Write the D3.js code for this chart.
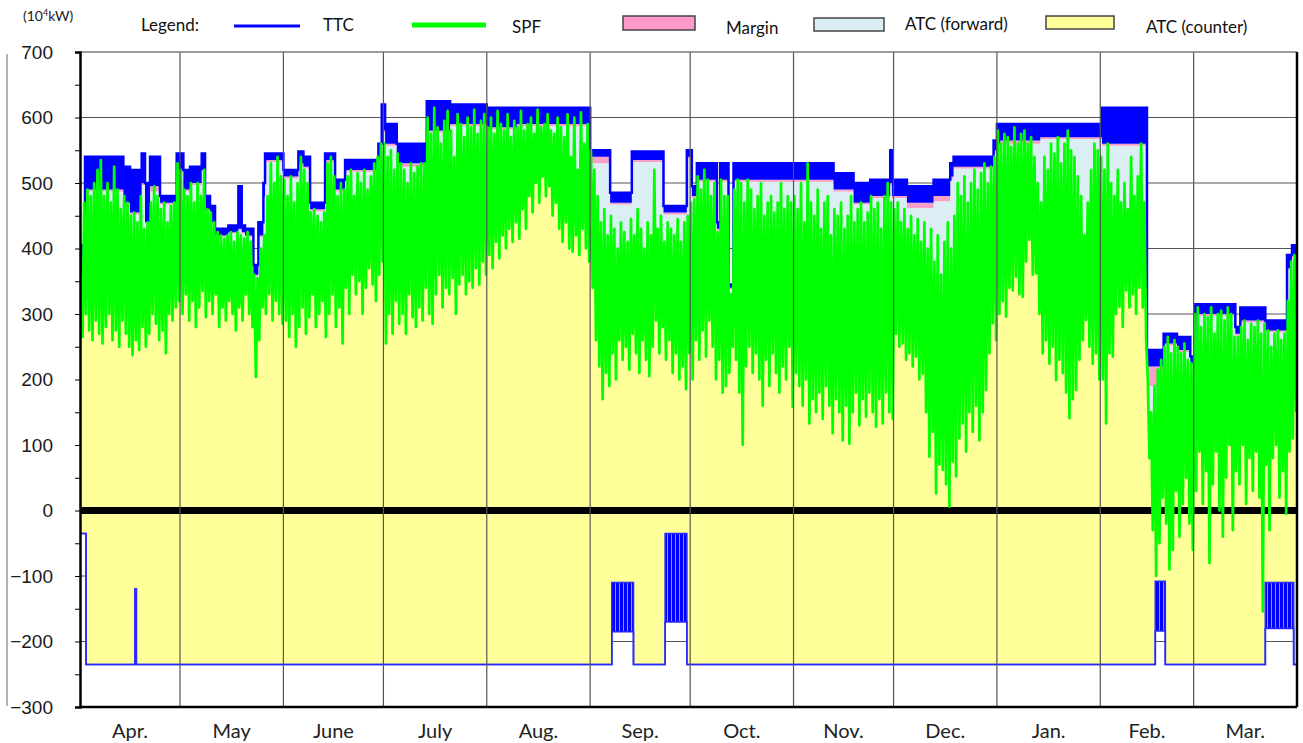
<!DOCTYPE html>
<html>
<head>
<meta charset="utf-8">
<script src="https://cdn.jsdelivr.net/npm/d3@7"></script>
<style>
  body { margin: 0; background: #fff; }
  svg { display: block; font-family: Lato, "Open Sans", sans-serif; }
</style>
</head>
<body>
<div id="container"></div>
<script>
// fiscal year, day 0 = 1 April
const monthNames = ['Apr.', 'May', 'June', 'July', 'Aug.', 'Sep.', 'Oct.', 'Nov.', 'Dec.', 'Jan.', 'Feb.', 'Mar.'];
const yTicks = [700, 600, 500, 400, 300, 200, 100, 0, -100, -200, -300];

// TTC (forward) steps: start day, band top, band bottom, margin below it
const ttcDay = [0, 1.5, 13, 15, 18.5, 19.5, 21, 24, 29, 31, 33, 36.5, 37.5, 39, 40.5, 44.5, 47.5, 48.5, 49.5, 52,
  53.5, 55, 55.5, 61, 65.5, 67, 69, 73.5, 76.5, 79.5, 89.5, 90.5, 91.5, 95, 104, 111, 122, 131, 152, 153,
  159, 165.5, 175, 182, 183.5, 185, 191, 192, 194.5, 196, 226, 232, 237, 243, 243.5, 248, 256, 261, 262, 274,
  275, 276, 288, 306.5, 320, 325, 329, 333, 334.5, 346.5, 348, 355.5, 362, 363.5];
const ttcHigh = [405, 540, 525, 520, 545, 500, 540, 480, 545, 520, 525, 545, 480, 465, 430, 435, 495, 435, 430, 375,
  440, 500, 545, 520, 548, 540, 470, 545, 505, 535, 560, 620, 590, 560, 625, 620, 615, 615, 615, 550,
  485, 548, 465, 550, 495, 530, 440, 530, 345, 530, 515, 500, 505, 550, 505, 495, 505, 530, 540, 565,
  590, 590, 590, 615, 245, 270, 265, 235, 315, 280, 310, 290, 390, 405];
const ttcLow = [355, 490, 470, 455, 500, 440, 495, 470, 520, 490, 500, 520, 460, 440, 420, 425, 430, 425, 420, 360,
  420, 480, 535, 510, 530, 525, 460, 535, 490, 520, 540, 580, 560, 530, 580, 590, 585, 590, 580, 540,
  470, 535, 455, 540, 480, 505, 430, 505, 340, 505, 490, 470, 480, 500, 480, 470, 480, 510, 525, 550,
  560, 565, 570, 560, 220, 255, 245, 225, 300, 270, 290, 275, 370, 390];
const ttcMargin = [0, 3, 10, 3, 3, 3, 8, 3, 3, 3, 3, 3, 3, 3, 2, 2, 2, 2, 2, 2,
  3, 3, 3, 3, 3, 3, 3, 3, 3, 3, 3, 3, 3, 5, 3, 3, 3, 3, 3, 10,
  3, 3, 3, 3, 3, 3, 3, 3, 2, 3, 3, 3, 3, 3, 3, 8, 8, 3, 3, 5,
  3, 5, 3, 3, 30, 3, 3, 3, 3, 3, 3, 3, 3, 3];

// TTC (counter direction) steps
const ctrDay = [0, 1.8, 16.5, 16.9, 159.5, 166, 175.5, 182, 322.5, 325.5, 355.5, 364];
const ctrHigh = [-35, -235, -120, -235, -110, -235, -35, -235, -108, -235, -110, -235];
const ctrLow = [-35, -235, -120, -235, -185, -235, -170, -235, -184, -235, -180, -235];

// SPF daily peak and trough
const spfHigh = [
  360, 470, 490, 480, 500, 520, 535, 480, 500, 470, 525, 490, 460, 480, 470, 450, 455, 440, 480, 430, 440, 470, 495, 480, 460, 470, 440, 465, 470, 530,
  520, 490, 480, 500, 470, 500, 480, 520, 460, 455, 440, 425, 420, 415, 420, 425, 410, 425, 420, 415, 425, 410, 360, 355, 400, 420, 480, 530, 500, 540, 510,
  505, 480, 510, 470, 500, 540, 520, 500, 455, 460, 450, 440, 455, 530, 540, 510, 480, 500, 490, 510, 520, 480, 515, 500, 520, 490, 510, 530, 540, 560,
  560, 540, 550, 520, 545, 530, 520, 500, 530, 515, 525, 530, 530, 600, 575, 615, 585, 560, 595, 610, 580, 540, 605, 590, 570, 600, 585, 612, 575, 595, 605,
  585, 600, 575, 610, 590, 580, 605, 570, 595, 585, 610, 580, 590, 600, 575, 612, 585, 590, 605, 580, 575, 600, 585, 570, 605, 540, 600, 520, 608, 560, 590,
  550, 520, 480, 440, 460, 420, 450, 430, 400, 440, 425, 410, 445, 420, 460, 430, 400, 440, 420, 520, 430, 450, 410, 440, 430, 420, 445, 410, 440, 450,
  470, 475, 510, 490, 520, 505, 480, 500, 425, 505, 480, 480, 330, 490, 505, 500, 470, 505, 490, 460, 480, 500, 450, 470, 480, 455, 470, 500, 460, 480, 470,
  480, 460, 500, 440, 530, 470, 450, 490, 430, 470, 480, 420, 460, 450, 470, 430, 450, 480, 440, 460, 470, 440, 455, 480, 460, 470, 430, 480, 500, 470,
  460, 470, 440, 460, 430, 450, 420, 445, 410, 440, 400, 430, 380, 420, 360, 410, 440, 400, 450, 500, 480, 510, 470, 500, 520, 490, 515, 530, 500, 525, 540,
  580, 560, 575, 570, 555, 585, 560, 575, 580, 560, 570, 540, 500, 470, 540, 520, 560, 545, 570, 530, 560, 580, 550, 540, 510, 480, 420, 470, 520, 560, 550,
  540, 520, 560, 500, 480, 520, 470, 500, 460, 540, 480, 510, 560, 470, 200, 150, 190, 215, 230, 250, 265, 240, 260, 250, 240, 255, 230, 225,
  300, 310, 280, 300, 295, 310, 270, 300, 305, 290, 310, 300, 265, 265, 280, 290, 260, 285, 280, 290, 270, 285, 275, 250, 270, 275, 260, 270, 320, 380, 390
];
const spfLow = [
  265, 300, 275, 260, 290, 270, 255, 280, 300, 260, 275, 250, 290, 270, 250, 237, 260, 245, 280, 250, 270, 300, 285, 260, 275, 240, 300, 290, 310, 320,
  300, 330, 290, 320, 280, 310, 335, 295, 320, 300, 330, 280, 310, 290, 320, 300, 275, 310, 290, 330, 300, 280, 204, 260, 310, 300, 330, 290, 320, 300, 285,
  290, 265, 300, 250, 280, 310, 270, 295, 330, 280, 300, 320, 265, 300, 330, 280, 310, 255, 340, 300, 360, 330, 350, 300, 340, 370, 345, 320, 360, 380,
  255, 300, 270, 320, 285, 300, 270, 330, 295, 280, 310, 290, 340, 300, 285, 330, 360, 310, 340, 330, 355, 300, 345, 360, 330, 350, 340, 370, 345, 380, 360,
  390, 370, 410, 385, 420, 400, 430, 410, 440, 415, 460, 430, 480, 455, 500, 470, 510, 480, 495, 450, 470, 430, 410, 440, 400, 395, 420, 390, 430, 400, 380,
  340, 260, 220, 170, 210, 190, 240, 200, 260, 230, 250, 215, 270, 240, 210, 260, 230, 205, 250, 290, 240, 280, 230, 260, 210, 240, 200, 220, 185, 240,
  200, 260, 230, 275, 235, 290, 250, 200, 230, 180, 190, 210, 250, 230, 180, 100, 220, 250, 210, 240, 200, 160, 230, 190, 240, 210, 180, 220, 200, 250, 158,
  210, 190, 160, 200, 133, 170, 150, 180, 140, 190, 160, 118, 170, 150, 107, 160, 102, 150, 180, 130, 170, 143, 180, 150, 128, 170, 133, 180, 150, 140,
  270, 250, 255, 230, 240, 220, 235, 200, 209, 150, 82, 120, 26, 70, 62, 40, 6, 75, 52, 110, 133, 90, 150, 120, 160, 107, 150, 184, 240, 286, 260,
  300, 320, 296, 340, 336, 357, 330, 326, 380, 413, 360, 362, 300, 240, 260, 224, 250, 199, 230, 210, 180, 141, 170, 184, 230, 260, 291, 250, 224, 240, 200,
  200, 133, 240, 235, 300, 311, 280, 336, 310, 330, 300, 340, 310, 260, 80, -30, -100, -50, 20, -20, -90, -60, 30, -40, 10, 50, -20, -60,
  30, 90, 10, 60, -80, 40, 90, 0, -40, 50, 100, -30, 60, 40, 100, 10, 80, 30, 90, 20, -154, 70, -30, 80, 100, 20, 60, -5, 90, 110, 150
];

const colours = { ttc: '#0000ff', spf: '#00ff00', margin: '#f9a0c8', fwd: '#dbeef4', ctr: '#ffff99' };

const W = 1303, H = 743;
const plotL = 80, plotR = 1297, plotT = 52, plotB = 707;
const start = Date.UTC(2018, 3, 1), end = Date.UTC(2019, 3, 1);
const dayDate = (d) => new Date(start + d * 864e5);

const x = d3.scaleUtc().domain([new Date(start), new Date(end)]).range([plotL, plotR]);
const y = d3.scaleLinear().domain([-300, 700]).range([plotB, plotT]);

const svg = d3.select('#container').append('svg').attr('width', W).attr('height', H);
const defs = svg.append('defs');
defs.append('clipPath').attr('id', 'plot')
  .append('rect').attr('x', plotL).attr('y', plotT).attr('width', plotR - plotL).attr('height', plotB - plotT);
const hatch = defs.append('pattern').attr('id', 'hatch').attr('patternUnits', 'userSpaceOnUse')
  .attr('width', 4).attr('height', 8);
hatch.append('rect').attr('width', 4).attr('height', 8).attr('fill', colours.ttc);
hatch.append('rect').attr('x', 3.1).attr('width', 0.7).attr('height', 8).attr('fill', '#c8c8ff');

// step data
const ttcPts = ttcDay.map((d, i) => ({ d, hi: ttcHigh[i], lo: ttcLow[i], m: ttcMargin[i] }));
ttcPts.push(Object.assign({}, ttcPts[ttcPts.length - 1], { d: 365 }));
const ctrPts = ctrDay.map((d, i) => ({ d, hi: ctrHigh[i], lo: ctrLow[i] }));
ctrPts.push(Object.assign({}, ctrPts[ctrPts.length - 1], { d: 365 }));
const spfPts = spfHigh.flatMap((h, i) => [{ d: i + 0.25, v: h }, { d: i + 0.75, v: spfLow[i] }]);

const px = (p) => x(dayDate(p.d));

// horizontal grid (under the fills)
svg.append('g').selectAll('line').data(yTicks.filter((t) => t !== 0 && t !== -300)).enter()
  .append('line')
  .attr('x1', plotL).attr('x2', plotR)
  .attr('y1', (t) => y(t)).attr('y2', (t) => y(t))
  .attr('stroke', (t) => (t === 700 ? '#888' : '#555')).attr('stroke-width', 1);

const plot = svg.append('g').attr('clip-path', 'url(#plot)');

// ATC forward and margin
plot.append('path').datum(ttcPts)
  .attr('d', d3.area().x(px).y0(y(0)).y1((p) => y(p.lo - p.m)).curve(d3.curveStepAfter))
  .attr('fill', colours.fwd);
plot.append('path').datum(ttcPts)
  .attr('d', d3.area().x(px).y0((p) => y(p.lo - p.m)).y1((p) => y(p.lo)).curve(d3.curveStepAfter))
  .attr('fill', colours.margin);

// ATC counter (yellow)
plot.append('path').datum(ctrPts)
  .attr('d', d3.area().x(px).y0((p) => y(p.lo)).y1(y(0)).curve(d3.curveStepAfter))
  .attr('fill', colours.ctr);
plot.append('path').datum(spfPts)
  .attr('d', d3.area().x(px).y0(y(0)).y1((p) => y(p.v)))
  .attr('fill', colours.ctr);

// TTC band
plot.append('path').datum(ttcPts)
  .attr('d', d3.area().x(px).y0((p) => y(p.lo)).y1((p) => y(p.hi)).curve(d3.curveStepAfter))
  .attr('fill', colours.ttc);
plot.append('path').datum(ttcPts)
  .attr('d', d3.line().x(px).y((p) => y(p.hi)).curve(d3.curveStepAfter))
  .attr('fill', 'none').attr('stroke', colours.ttc).attr('stroke-width', 2.5);

// zero line
plot.append('line')
  .attr('x1', plotL).attr('x2', plotR).attr('y1', y(0)).attr('y2', y(0))
  .attr('stroke', '#000').attr('stroke-width', 7);

// SPF
plot.append('path').datum(spfPts)
  .attr('d', d3.line().x(px).y((p) => y(p.v)))
  .attr('fill', 'none').attr('stroke', colours.spf).attr('stroke-width', 2.7)
  .attr('stroke-linejoin', 'round');

// counter TTC
plot.append('path').datum(ctrPts)
  .attr('d', d3.area().x(px).y0((p) => y(p.lo)).y1((p) => y(p.hi)).curve(d3.curveStepAfter))
  .attr('fill', 'url(#hatch)');
['lo', 'hi'].forEach((k) => {
  plot.append('path').datum(ctrPts)
    .attr('d', d3.line().x(px).y((p) => y(p[k])).curve(d3.curveStepAfter))
    .attr('fill', 'none').attr('stroke', '#2828ff').attr('stroke-width', 1.6);
});

// month grid on top
const monthStarts = d3.utcMonth.range(new Date(start), new Date(end));
svg.append('g').selectAll('line').data(monthStarts.slice(1)).enter()
  .append('line')
  .attr('x1', (d) => x(d)).attr('x2', (d) => x(d))
  .attr('y1', plotT).attr('y2', plotB)
  .attr('stroke', '#555').attr('stroke-width', 1.2);

// frame
svg.append('line').attr('x1', plotL).attr('x2', plotR).attr('y1', plotT).attr('y2', plotT)
  .attr('stroke', '#777').attr('stroke-width', 1.2);
svg.append('line').attr('x1', plotL).attr('x2', plotR).attr('y1', plotB).attr('y2', plotB)
  .attr('stroke', '#000').attr('stroke-width', 2.5);
svg.append('line').attr('x1', plotR).attr('x2', plotR).attr('y1', plotT).attr('y2', plotB)
  .attr('stroke', '#000').attr('stroke-width', 2.5);

// y axis
const yAxis = svg.append('g').attr('transform', `translate(${plotL}, 0)`)
  .call(d3.axisLeft(y).tickValues(d3.range(-300, 701, 50)).tickSize(5).tickPadding(22)
    .tickFormat((d) => (yTicks.includes(d) ? d3.format('')(d) : '')));
yAxis.select('.domain').attr('stroke', '#000').attr('stroke-width', 2.5);
yAxis.selectAll('.tick line').attr('stroke', '#000').attr('stroke-width', 1);
yAxis.selectAll('.tick text')
  .style('font-family', '"Liberation Sans", Arial, sans-serif')
  .style('font-size', '19px').attr('fill', '#1a1a1a');

svg.append('line').attr('x1', 7).attr('x2', 7).attr('y1', 54).attr('y2', 706)
  .attr('stroke', '#b4b4b4').attr('stroke-width', 2);

// month labels
svg.append('g').selectAll('text').data(monthStarts).enter()
  .append('text')
  .attr('x', (d) => (x(d) + x(d3.utcMonth.offset(d, 1))) / 2)
  .attr('y', 738)
  .attr('text-anchor', 'middle')
  .style('font-size', '20px').attr('fill', '#222')
  .text((d, i) => monthNames[i]);

// unit
const unit = svg.append('text').attr('x', 23).attr('y', 21).style('font-size', '14px').attr('fill', '#222');
unit.append('tspan').text('(10');
unit.append('tspan').attr('dy', -5).style('font-size', '9px').text('4');
unit.append('tspan').attr('dy', 5).text('kW)');

// legend
const legend = svg.append('g').style('font-size', '17px').attr('fill', '#111');
legend.append('text').attr('x', 141).attr('y', 31).text('Legend:');
legend.append('line').attr('x1', 234).attr('x2', 300).attr('y1', 26).attr('y2', 26)
  .attr('stroke', colours.ttc).attr('stroke-width', 3);
legend.append('text').attr('x', 323).attr('y', 31).text('TTC');
legend.append('line').attr('x1', 412).attr('x2', 486).attr('y1', 25).attr('y2', 25)
  .attr('stroke', colours.spf).attr('stroke-width', 5);
legend.append('text').attr('x', 512).attr('y', 33).text('SPF');
legend.append('rect').attr('x', 623).attr('y', 16).attr('width', 72).attr('height', 14)
  .attr('fill', '#ff99cc').attr('stroke', '#444').attr('stroke-width', 1.5);
legend.append('text').attr('x', 726).attr('y', 34).text('Margin');
legend.append('rect').attr('x', 814).attr('y', 18).attr('width', 70).attr('height', 13)
  .attr('fill', colours.fwd).attr('stroke', '#444').attr('stroke-width', 1.5);
legend.append('text').attr('x', 905).attr('y', 30).text('ATC (forward)');
legend.append('rect').attr('x', 1046).attr('y', 16).attr('width', 68).attr('height', 13)
  .attr('fill', colours.ctr).attr('stroke', '#444').attr('stroke-width', 1.5);
legend.append('text').attr('x', 1146).attr('y', 33).text('ATC (counter)');
</script>
</body>
</html>
